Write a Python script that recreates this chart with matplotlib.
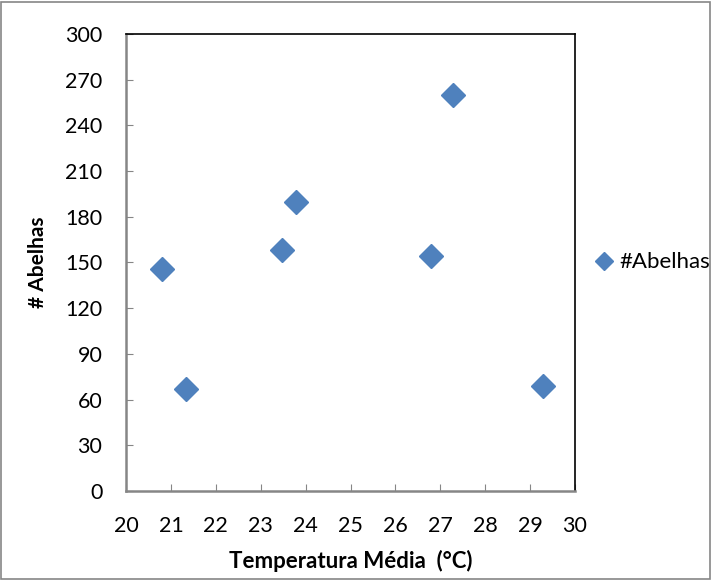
from matplotlib import pyplot as plt
from matplotlib.patches import Rectangle

# DATA
temperatura = [20.81, 21.34, 23.47, 23.78, 26.80, 27.29, 29.29]
abelhas = [146, 67, 158, 190, 154, 260, 69]
x_ticks = list(range(20, 31))
y_ticks = list(range(0, 301, 30))

BLUE = "#4F81BD"
GRAY = "#868686"


def main():
    plt.rcParams["font.family"] = ["Lato", "DejaVu Sans"]
    fig = plt.figure(figsize=(7.13, 5.81), dpi=100)
    ax = fig.add_axes([0.1767, 0.1549, 0.6298, 0.7866])

    ax.plot(temperatura, abelhas, linestyle="none", marker="D",
            markersize=12, color=BLUE, label="#Abelhas")

    ax.set_xlim(20, 30)
    ax.set_ylim(0, 300)
    ax.set_xticks(x_ticks)
    ax.set_yticks(y_ticks)
    ax.tick_params(direction="in", length=5, color=GRAY, labelsize=15.5)
    ax.tick_params(axis="x", pad=18)
    ax.tick_params(axis="y", pad=17)

    for side in ["left", "bottom"]:
        ax.spines[side].set_color(GRAY)
        ax.spines[side].set_linewidth(1.8)
    for side in ["top", "right"]:
        ax.spines[side].set_color("black")
        ax.spines[side].set_linewidth(1.2)

    ax.set_xlabel("Temperatura Média  (°C)", fontsize=16, fontweight="bold", labelpad=10)
    ax.set_ylabel("# Abelhas", fontsize=15, fontweight="bold", labelpad=12)

    ax.legend(loc="center left", bbox_to_anchor=(0.99, 0.5), frameon=False,
              fontsize=16, handletextpad=0.1, handlelength=1.2, markerscale=0.75)

    # outer chart border
    fig.patches.append(Rectangle((0.002, 0.004), 0.994, 0.993, transform=fig.transFigure,
                                 fill=False, edgecolor=GRAY, linewidth=1.2))

    plt.savefig("out.png", dpi=100)


if __name__ == "__main__":
    main()
